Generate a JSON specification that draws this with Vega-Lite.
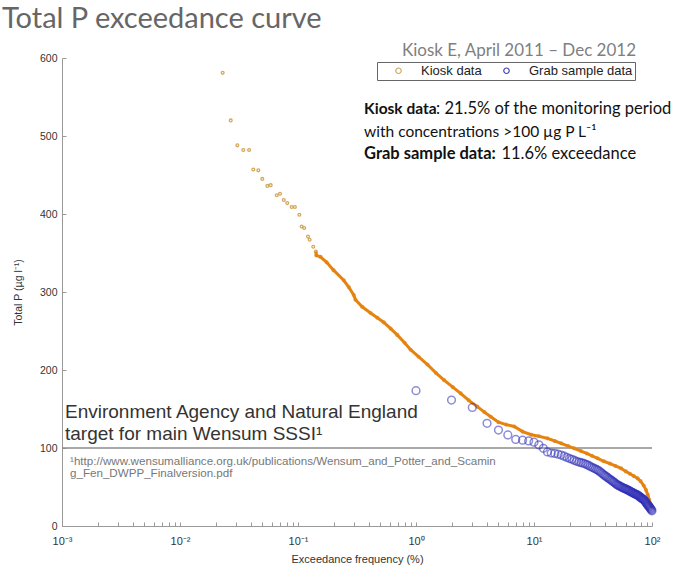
{
  "$schema": "https://vega.github.io/schema/vega-lite/v6.json",
  "width": 590,
  "height": 468,
  "autosize": {"type": "none"},
  "padding": {"left": 62, "top": 58, "right": 46, "bottom": 43},
  "background": "white",
  "config": {"view": {"stroke": null}, "font": "Liberation Sans"},
  "title": {"text": "Total P exceedance curve", "anchor": "start", "frame": "group", "dx": -60, "offset": 8, "font": "Lato", "fontSize": 29, "fontWeight": "normal", "color": "#666666"},
  "datasets": {
    "tp": [
      {"series": "Kiosk data", "freq": 0.0230, "tp": 581},
      {"series": "Kiosk data", "freq": 0.0269, "tp": 520},
      {"series": "Kiosk data", "freq": 0.0306, "tp": 488},
      {"series": "Kiosk data", "freq": 0.0344, "tp": 482},
      {"series": "Kiosk data", "freq": 0.0385, "tp": 482},
      {"series": "Kiosk data", "freq": 0.0418, "tp": 457},
      {"series": "Kiosk data", "freq": 0.0461, "tp": 456},
      {"series": "Kiosk data", "freq": 0.0498, "tp": 445},
      {"series": "Kiosk data", "freq": 0.0550, "tp": 436},
      {"series": "Kiosk data", "freq": 0.0587, "tp": 437},
      {"series": "Kiosk data", "freq": 0.0660, "tp": 424},
      {"series": "Kiosk data", "freq": 0.0704, "tp": 426},
      {"series": "Kiosk data", "freq": 0.0758, "tp": 418},
      {"series": "Kiosk data", "freq": 0.0811, "tp": 414},
      {"series": "Kiosk data", "freq": 0.0884, "tp": 409},
      {"series": "Kiosk data", "freq": 0.0941, "tp": 409},
      {"series": "Kiosk data", "freq": 0.1026, "tp": 399},
      {"series": "Kiosk data", "freq": 0.1074, "tp": 384},
      {"series": "Kiosk data", "freq": 0.1128, "tp": 382},
      {"series": "Kiosk data", "freq": 0.1215, "tp": 371},
      {"series": "Kiosk data", "freq": 0.1255, "tp": 367},
      {"series": "Kiosk data", "freq": 0.1347, "tp": 358},
      {"series": "Kiosk data", "freq": 0.1417, "tp": 352},
      {"series": "Kiosk data", "freq": 0.143, "tp": 347},
      {"series": "Kiosk data", "freq": 0.155, "tp": 345},
      {"series": "Kiosk data", "freq": 0.175, "tp": 338},
      {"series": "Kiosk data", "freq": 0.2, "tp": 328},
      {"series": "Kiosk data", "freq": 0.244, "tp": 315},
      {"series": "Kiosk data", "freq": 0.27, "tp": 306},
      {"series": "Kiosk data", "freq": 0.297, "tp": 296},
      {"series": "Kiosk data", "freq": 0.307, "tp": 290},
      {"series": "Kiosk data", "freq": 0.35, "tp": 281},
      {"series": "Kiosk data", "freq": 0.412, "tp": 273},
      {"series": "Kiosk data", "freq": 0.47, "tp": 267},
      {"series": "Kiosk data", "freq": 0.534, "tp": 261},
      {"series": "Kiosk data", "freq": 0.61, "tp": 253},
      {"series": "Kiosk data", "freq": 0.693, "tp": 245},
      {"series": "Kiosk data", "freq": 0.8, "tp": 235},
      {"series": "Kiosk data", "freq": 0.9, "tp": 226},
      {"series": "Kiosk data", "freq": 1.05, "tp": 217},
      {"series": "Kiosk data", "freq": 1.25, "tp": 207},
      {"series": "Kiosk data", "freq": 1.48, "tp": 196},
      {"series": "Kiosk data", "freq": 1.73, "tp": 187},
      {"series": "Kiosk data", "freq": 2.05, "tp": 178},
      {"series": "Kiosk data", "freq": 2.39, "tp": 170},
      {"series": "Kiosk data", "freq": 2.8, "tp": 161},
      {"series": "Kiosk data", "freq": 3.31, "tp": 153},
      {"series": "Kiosk data", "freq": 3.8, "tp": 146},
      {"series": "Kiosk data", "freq": 4.3, "tp": 140},
      {"series": "Kiosk data", "freq": 5.0, "tp": 133},
      {"series": "Kiosk data", "freq": 5.8, "tp": 130},
      {"series": "Kiosk data", "freq": 6.8, "tp": 127.6},
      {"series": "Kiosk data", "freq": 8.0, "tp": 121},
      {"series": "Kiosk data", "freq": 9.5, "tp": 117},
      {"series": "Kiosk data", "freq": 11, "tp": 115},
      {"series": "Kiosk data", "freq": 13, "tp": 112.4},
      {"series": "Kiosk data", "freq": 15, "tp": 109},
      {"series": "Kiosk data", "freq": 17, "tp": 106},
      {"series": "Kiosk data", "freq": 19.5, "tp": 102.5},
      {"series": "Kiosk data", "freq": 21.9, "tp": 99.6},
      {"series": "Kiosk data", "freq": 25, "tp": 96},
      {"series": "Kiosk data", "freq": 28, "tp": 93},
      {"series": "Kiosk data", "freq": 31, "tp": 90},
      {"series": "Kiosk data", "freq": 34.6, "tp": 86.8},
      {"series": "Kiosk data", "freq": 39, "tp": 83},
      {"series": "Kiosk data", "freq": 44, "tp": 80},
      {"series": "Kiosk data", "freq": 49, "tp": 77},
      {"series": "Kiosk data", "freq": 54.6, "tp": 74},
      {"series": "Kiosk data", "freq": 60, "tp": 70},
      {"series": "Kiosk data", "freq": 65, "tp": 67},
      {"series": "Kiosk data", "freq": 70, "tp": 64},
      {"series": "Kiosk data", "freq": 75.6, "tp": 61},
      {"series": "Kiosk data", "freq": 80, "tp": 57.5},
      {"series": "Kiosk data", "freq": 85, "tp": 52},
      {"series": "Kiosk data", "freq": 89, "tp": 46},
      {"series": "Kiosk data", "freq": 92, "tp": 40},
      {"series": "Kiosk data", "freq": 94.5, "tp": 34},
      {"series": "Kiosk data", "freq": 96.5, "tp": 29},
      {"series": "Kiosk data", "freq": 98.5, "tp": 26},
      {"series": "Kiosk data", "freq": 100, "tp": 24},
      {"series": "Grab sample data", "freq": 1, "tp": 173.5},
      {"series": "Grab sample data", "freq": 2, "tp": 161.5},
      {"series": "Grab sample data", "freq": 3, "tp": 152},
      {"series": "Grab sample data", "freq": 4, "tp": 131.6},
      {"series": "Grab sample data", "freq": 5, "tp": 123},
      {"series": "Grab sample data", "freq": 6, "tp": 116.7},
      {"series": "Grab sample data", "freq": 7, "tp": 111},
      {"series": "Grab sample data", "freq": 8, "tp": 110},
      {"series": "Grab sample data", "freq": 9, "tp": 109},
      {"series": "Grab sample data", "freq": 10, "tp": 107.5},
      {"series": "Grab sample data", "freq": 11, "tp": 104},
      {"series": "Grab sample data", "freq": 12, "tp": 99.6},
      {"series": "Grab sample data", "freq": 13, "tp": 95},
      {"series": "Grab sample data", "freq": 14, "tp": 93.5},
      {"series": "Grab sample data", "freq": 15, "tp": 93},
      {"series": "Grab sample data", "freq": 16, "tp": 92},
      {"series": "Grab sample data", "freq": 17, "tp": 91},
      {"series": "Grab sample data", "freq": 18, "tp": 89.5},
      {"series": "Grab sample data", "freq": 19, "tp": 88},
      {"series": "Grab sample data", "freq": 20, "tp": 86.5},
      {"series": "Grab sample data", "freq": 21, "tp": 85.5},
      {"series": "Grab sample data", "freq": 22, "tp": 84},
      {"series": "Grab sample data", "freq": 23, "tp": 83},
      {"series": "Grab sample data", "freq": 24, "tp": 82},
      {"series": "Grab sample data", "freq": 25, "tp": 81.3},
      {"series": "Grab sample data", "freq": 26, "tp": 80.6},
      {"series": "Grab sample data", "freq": 27, "tp": 79.8},
      {"series": "Grab sample data", "freq": 28, "tp": 78.8},
      {"series": "Grab sample data", "freq": 29, "tp": 77.6},
      {"series": "Grab sample data", "freq": 30, "tp": 76.3},
      {"series": "Grab sample data", "freq": 31, "tp": 75.3},
      {"series": "Grab sample data", "freq": 32, "tp": 74.3},
      {"series": "Grab sample data", "freq": 33, "tp": 73.3},
      {"series": "Grab sample data", "freq": 34, "tp": 72.3},
      {"series": "Grab sample data", "freq": 35, "tp": 71.3},
      {"series": "Grab sample data", "freq": 36, "tp": 70},
      {"series": "Grab sample data", "freq": 37, "tp": 68.5},
      {"series": "Grab sample data", "freq": 38, "tp": 67},
      {"series": "Grab sample data", "freq": 39, "tp": 65.6},
      {"series": "Grab sample data", "freq": 40, "tp": 64.5},
      {"series": "Grab sample data", "freq": 41, "tp": 63.3},
      {"series": "Grab sample data", "freq": 42, "tp": 62.2},
      {"series": "Grab sample data", "freq": 43, "tp": 61},
      {"series": "Grab sample data", "freq": 44, "tp": 59.8},
      {"series": "Grab sample data", "freq": 45, "tp": 58.9},
      {"series": "Grab sample data", "freq": 46, "tp": 57.8},
      {"series": "Grab sample data", "freq": 47, "tp": 56.7},
      {"series": "Grab sample data", "freq": 48, "tp": 55.8},
      {"series": "Grab sample data", "freq": 49, "tp": 54.5},
      {"series": "Grab sample data", "freq": 50, "tp": 53.5},
      {"series": "Grab sample data", "freq": 51, "tp": 52.6},
      {"series": "Grab sample data", "freq": 52, "tp": 52},
      {"series": "Grab sample data", "freq": 53, "tp": 51.4},
      {"series": "Grab sample data", "freq": 54, "tp": 50.7},
      {"series": "Grab sample data", "freq": 55, "tp": 50},
      {"series": "Grab sample data", "freq": 56, "tp": 49.4},
      {"series": "Grab sample data", "freq": 57, "tp": 48.8},
      {"series": "Grab sample data", "freq": 58, "tp": 48.3},
      {"series": "Grab sample data", "freq": 59, "tp": 47.8},
      {"series": "Grab sample data", "freq": 60, "tp": 47.3},
      {"series": "Grab sample data", "freq": 61, "tp": 46.8},
      {"series": "Grab sample data", "freq": 62, "tp": 46.3},
      {"series": "Grab sample data", "freq": 63, "tp": 45.7},
      {"series": "Grab sample data", "freq": 64, "tp": 45.2},
      {"series": "Grab sample data", "freq": 65, "tp": 44.6},
      {"series": "Grab sample data", "freq": 66, "tp": 44},
      {"series": "Grab sample data", "freq": 67, "tp": 43.5},
      {"series": "Grab sample data", "freq": 68, "tp": 43},
      {"series": "Grab sample data", "freq": 69, "tp": 42.5},
      {"series": "Grab sample data", "freq": 70, "tp": 42},
      {"series": "Grab sample data", "freq": 71, "tp": 41.5},
      {"series": "Grab sample data", "freq": 72, "tp": 41},
      {"series": "Grab sample data", "freq": 73, "tp": 40.7},
      {"series": "Grab sample data", "freq": 74, "tp": 40.3},
      {"series": "Grab sample data", "freq": 75, "tp": 39.8},
      {"series": "Grab sample data", "freq": 76, "tp": 39.3},
      {"series": "Grab sample data", "freq": 77, "tp": 38.6},
      {"series": "Grab sample data", "freq": 78, "tp": 38},
      {"series": "Grab sample data", "freq": 79, "tp": 37.3},
      {"series": "Grab sample data", "freq": 80, "tp": 36.7},
      {"series": "Grab sample data", "freq": 81, "tp": 36},
      {"series": "Grab sample data", "freq": 82, "tp": 35.4},
      {"series": "Grab sample data", "freq": 83, "tp": 34.8},
      {"series": "Grab sample data", "freq": 84, "tp": 34.2},
      {"series": "Grab sample data", "freq": 85, "tp": 33.6},
      {"series": "Grab sample data", "freq": 86, "tp": 33},
      {"series": "Grab sample data", "freq": 87, "tp": 32},
      {"series": "Grab sample data", "freq": 88, "tp": 31},
      {"series": "Grab sample data", "freq": 89, "tp": 30},
      {"series": "Grab sample data", "freq": 90, "tp": 29},
      {"series": "Grab sample data", "freq": 91, "tp": 28},
      {"series": "Grab sample data", "freq": 92, "tp": 27},
      {"series": "Grab sample data", "freq": 93, "tp": 26},
      {"series": "Grab sample data", "freq": 94, "tp": 25.2},
      {"series": "Grab sample data", "freq": 95, "tp": 24.5},
      {"series": "Grab sample data", "freq": 96, "tp": 23.5},
      {"series": "Grab sample data", "freq": 97, "tp": 22.5},
      {"series": "Grab sample data", "freq": 98, "tp": 21.5},
      {"series": "Grab sample data", "freq": 99, "tp": 20.5},
      {"series": "Grab sample data", "freq": 100, "tp": 19.5}
    ],
    "one": [{}]
  },
  "layer": [
    {
      "data": {"name": "one"},
      "mark": {"type": "rule", "color": "#8c8c8c", "strokeWidth": 1.5},
      "encoding": {"y": {"datum": 100, "type": "quantitative"}}
    },
    {
      "data": {"name": "tp"},
      "transform": [{"filter": "datum.series == 'Kiosk data'"}],
      "mark": {"type": "point", "shape": "circle", "filled": false, "size": 8, "strokeWidth": 1.3, "opacity": 0.9},
      "encoding": {
        "x": {"field": "freq", "type": "quantitative", "scale": {"type": "log", "domain": [0.001, 100], "nice": false},
          "axis": {"title": "Exceedance frequency (%)",
            "values": [0.001,0.002,0.003,0.004,0.005,0.006,0.007,0.008,0.009,0.01,0.02,0.03,0.04,0.05,0.06,0.07,0.08,0.09,0.1,0.2,0.3,0.4,0.5,0.6,0.7,0.8,0.9,1,2,3,4,5,6,7,8,9,10,20,30,40,50,60,70,80,90,100],
            "labelExpr": "datum.value == 0.001 ? '10⁻³' : datum.value == 0.01 ? '10⁻²' : datum.value == 0.1 ? '10⁻¹' : datum.value == 1 ? '10⁰' : datum.value == 10 ? '10¹' : datum.value == 100 ? '10²' : ''",
            "grid": false, "tickSize": -4, "labelPadding": 13, "labelOverlap": false, "labelFlush": false,
            "domainColor": "#999999", "tickColor": "#999999", "labelFont": "Liberation Sans", "labelFontSize": 11, "labelColor": "#333333",
            "titleFont": "Liberation Sans", "titleFontSize": 11, "titleFontWeight": "normal", "titleColor": "#333333", "titlePadding": 7}},
        "y": {"field": "tp", "type": "quantitative", "scale": {"domain": [0, 600], "nice": false},
          "axis": {"title": "Total P (µg l⁻¹)", "values": [0,100,200,300,400,500,600], "grid": false, "tickSize": -4, "labelPadding": 9,
            "domainColor": "#999999", "tickColor": "#999999", "labelFont": "Liberation Sans", "labelFontSize": 10.5, "labelColor": "#333333",
            "titleFont": "Liberation Sans", "titleFontSize": 10.5, "titleFontWeight": "normal", "titleColor": "#333333", "titlePadding": 16}},
        "color": {"field": "series", "type": "nominal",
          "scale": {"domain": ["Kiosk data", "Grab sample data"], "range": ["#cfa04e", "#3030b8"]},
          "legend": {"title": null, "orient": "none", "legendX": 315, "legendY": 4, "direction": "horizontal",
            "strokeColor": "#666666", "fillColor": "white", "padding": 2, "labelFont": "Liberation Sans", "labelFontSize": 13, "labelColor": "#222222",
            "symbolSize": 30, "symbolStrokeWidth": 1.2, "symbolType": "circle", "columnPadding": 5, "symbolOffset": 13, "labelOffset": 16}}
      }
    },
    {
      "data": {"name": "tp"},
      "transform": [{"filter": "datum.series == 'Kiosk data' && datum.freq >= 0.14"}],
      "mark": {"type": "line", "color": "#e8820e", "strokeWidth": 3},
      "encoding": {
        "x": {"field": "freq", "type": "quantitative"},
        "y": {"field": "tp", "type": "quantitative"}
      }
    },
    {
      "data": {"name": "tp"},
      "transform": [{"filter": "datum.series == 'Grab sample data'"}],
      "mark": {"type": "point", "shape": "circle", "filled": false, "size": 60, "strokeWidth": 1.5, "opacity": 0.55},
      "encoding": {
        "x": {"field": "freq", "type": "quantitative"},
        "y": {"field": "tp", "type": "quantitative"},
        "color": {"field": "series", "type": "nominal"}
      }
    },
    {
      "data": {"name": "one"},
      "mark": {"type": "text", "text": "Kiosk E, April 2011 – Dec 2012", "font": "Lato", "fontSize": 17, "color": "#7f7f7f", "align": "center", "baseline": "alphabetic"},
      "encoding": {"x": {"datum": 7.46, "type": "quantitative"}, "y": {"datum": 602.6, "type": "quantitative"}}
    },
    {
      "data": {"name": "one"},
      "mark": {"type": "text", "text": "Kiosk data", "font": "Lato", "fontSize": 15.5, "fontWeight": "bold", "color": "#111111", "align": "left", "baseline": "alphabetic"},
      "encoding": {"x": {"datum": 0.363, "type": "quantitative"}, "y": {"datum": 528.2, "type": "quantitative"}}
    },
    {
      "data": {"name": "one"},
      "mark": {"type": "text", "text": ": 21.5% of the monitoring period", "font": "Lato", "fontSize": 16.5, "color": "#111111", "align": "left", "baseline": "alphabetic"},
      "encoding": {"x": {"datum": 1.48, "type": "quantitative"}, "y": {"datum": 528.2, "type": "quantitative"}}
    },
    {
      "data": {"name": "one"},
      "mark": {"type": "text", "text": "with concentrations >100 µg P L⁻¹", "font": "Lato", "fontSize": 15.5, "color": "#111111", "align": "left", "baseline": "alphabetic"},
      "encoding": {"x": {"datum": 0.363, "type": "quantitative"}, "y": {"datum": 499.1, "type": "quantitative"}}
    },
    {
      "data": {"name": "one"},
      "mark": {"type": "text", "text": "Grab sample data:", "font": "Lato", "fontSize": 16.5, "fontWeight": "bold", "color": "#111111", "align": "left", "baseline": "alphabetic"},
      "encoding": {"x": {"datum": 0.363, "type": "quantitative"}, "y": {"datum": 470.5, "type": "quantitative"}}
    },
    {
      "data": {"name": "one"},
      "mark": {"type": "text", "text": "11.6% exceedance", "font": "Lato", "fontSize": 16.5, "color": "#111111", "align": "left", "baseline": "alphabetic"},
      "encoding": {"x": {"datum": 5.3, "type": "quantitative"}, "y": {"datum": 470.5, "type": "quantitative"}}
    },
    {
      "data": {"name": "one"},
      "mark": {"type": "text", "text": "Environment Agency and Natural England", "font": "Liberation Sans", "fontSize": 19, "color": "#333333", "align": "left", "baseline": "alphabetic"},
      "encoding": {"x": {"datum": 0.00106, "type": "quantitative"}, "y": {"datum": 138.5, "type": "quantitative"}}
    },
    {
      "data": {"name": "one"},
      "mark": {"type": "text", "text": "target for main Wensum SSSI¹", "font": "Liberation Sans", "fontSize": 19, "color": "#333333", "align": "left", "baseline": "alphabetic"},
      "encoding": {"x": {"datum": 0.00106, "type": "quantitative"}, "y": {"datum": 110.3, "type": "quantitative"}}
    },
    {
      "data": {"name": "one"},
      "mark": {"type": "text", "text": "¹http://www.wensumalliance.org.uk/publications/Wensum_and_Potter_and_Scamin", "font": "Liberation Sans", "fontSize": 11.6, "color": "#777777", "align": "left", "baseline": "alphabetic"},
      "encoding": {"x": {"datum": 0.00117, "type": "quantitative"}, "y": {"datum": 78.2, "type": "quantitative"}}
    },
    {
      "data": {"name": "one"},
      "mark": {"type": "text", "text": "g_Fen_DWPP_Finalversion.pdf", "font": "Liberation Sans", "fontSize": 11.6, "color": "#777777", "align": "left", "baseline": "alphabetic"},
      "encoding": {"x": {"datum": 0.00117, "type": "quantitative"}, "y": {"datum": 62.8, "type": "quantitative"}}
    }
  ]
}
